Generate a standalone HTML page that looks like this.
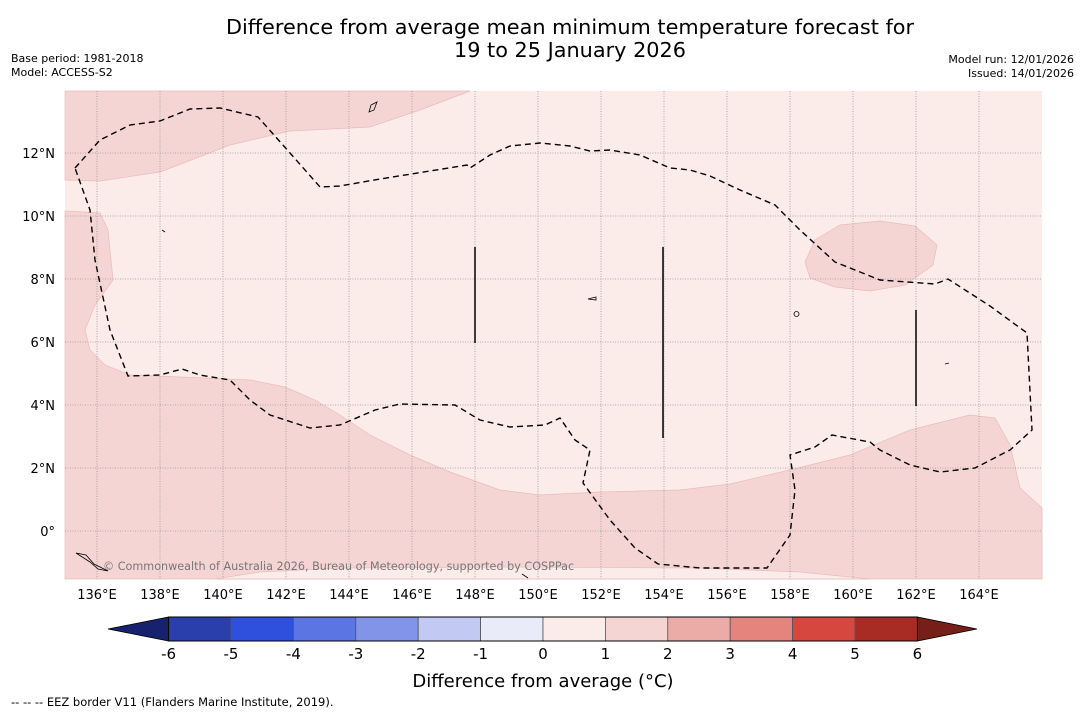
<!DOCTYPE html>
<html><head><meta charset="utf-8"><style>
body{margin:0;background:#fff;width:1085px;height:713px;overflow:hidden;font-family:"Liberation Sans","DejaVu Sans",sans-serif}
svg{display:block}
</style></head><body>
<svg width="1085" height="713" xmlns="http://www.w3.org/2000/svg" font-family="DejaVu Sans, Liberation Sans, sans-serif">
<text x="570" y="34" font-size="20.8" text-anchor="middle">Difference from average mean minimum temperature forecast for</text>
<text x="570" y="57" font-size="20.8" text-anchor="middle">19 to 25 January 2026</text>
<text x="11" y="62" font-size="11">Base period: 1981-2018</text>
<text x="11" y="76" font-size="11">Model: ACCESS-S2</text>
<text x="1074" y="63" font-size="11" text-anchor="end">Model run: 12/01/2026</text>
<text x="1074" y="77" font-size="11" text-anchor="end">Issued: 14/01/2026</text>
<g>
<rect x="65" y="91" width="977" height="488" fill="#fbebe9"/>
<path fill="#f5d5d4" stroke="#e8bcbb" stroke-width="0.7" d="M65,91 L470,91 L420,110 L370,127 L290,131 L230,145 L160,172 L100,181 L65,180 Z"/>
<path fill="#f5d5d4" stroke="#e8bcbb" stroke-width="0.7" d="M65,211 L100,213 L108,230 L113,280 L95,305 L85,330 L90,350 L105,365 L130,375 L180,377 L250,380 L285,387 L315,400 L340,415 L370,435 L410,455 L450,472 L500,490 L540,495 L600,492 L680,490 L730,484 L790,470 L850,455 L910,430 L970,415 L995,418 L1010,445 L1020,488 L1042,508 L1042,579 L65,579 Z"/>
<path fill="#fbebe9" stroke="#e8bcbb" stroke-width="0.7" d="M215,579 L260,572 L340,568 L500,567 L700,568 L800,572 L870,579 Z"/>
<path fill="#f5d5d4" stroke="#e8bcbb" stroke-width="0.7" d="M805,262 L815,240 L840,225 L880,221 L915,226 L937,245 L933,265 L905,285 L870,291 L835,287 L810,278 Z"/>
<g id="grid" stroke="#999" stroke-width="0.8" stroke-dasharray="1,1.5"></g>
<path fill="none" stroke="#000" stroke-width="1.4" stroke-dasharray="6,4" d="M75,168 L100,140 L130,125 L160,121 L190,109 L220,108 L258,117 L290,153 L320,187 L340,186 L380,179 L430,171 L467,165 L470,168 L490,155 L510,146 L540,143 L570,146 L590,151 L610,150 L640,155 L670,168 L690,170 L710,176 L740,190 L775,205 L800,230 L835,262 L880,280 L935,284 L948,279 L990,306 L1027,333 L1032,430 L1010,450 L975,468 L940,472 L910,465 L880,450 L870,442 L832,435 L815,447 L790,455 L795,490 L790,535 L767,568 L700,568 L658,564 L635,548 L610,520 L583,483 L590,450 L575,440 L560,418 L545,425 L510,427 L480,420 L455,405 L400,404 L375,410 L340,425 L310,428 L270,415 L250,400 L230,380 L200,375 L182,369 L160,375 L128,376 L110,330 L95,260 L90,210 Z"/>
<g stroke="#000" stroke-width="1.5">
<line x1="475" y1="247" x2="475" y2="343"/><line x1="663" y1="247" x2="663" y2="438"/><line x1="916" y1="310" x2="916" y2="406"/>
</g>
<g fill="none" stroke="#000" stroke-width="0.8">
<path d="M369,112 L371,105 L377,102 L374,110 Z"/><path d="M588,299 L596,297 L596,300 Z"/><path d="M794,314 a2.5,2.5 0 1,0 5,0 a2.5,2.5 0 1,0 -5,0"/><path d="M945,364 L949,363"/><path d="M162,230 L165,232"/><path d="M76,553 L86,555 L94,564 L108,571 L98,569 L90,562 Z"/><path d="M522,574 L528,578"/>
</g>
<text x="103" y="570" font-size="11.2" fill="#777">© Commonwealth of Australia 2026, Bureau of Meteorology, supported by COSPPac</text>
</g>
<g id="axes" font-size="13"></g>
<g id="cbar"></g>
<text x="543" y="687" font-size="18" text-anchor="middle">Difference from average (°C)</text>
<text x="11" y="706" font-size="11.5">--  --  -- EEZ border V11 (Flanders Marine Institute, 2019).</text>
</svg>
<script>
const lonTicks=[136,138,140,142,144,146,148,150,152,154,156,158,160,162,164];
const latTicks=[0,2,4,6,8,10,12];
const cbLevels=[-6,-5,-4,-3,-2,-1,0,1,2,3,4,5,6];
const cbColors=["#2a3fab","#2f50dc","#5b75e2","#8194e8","#c2c9f3","#e9ebf9","#fbebe9","#f5d5d4","#ebaba6","#e5847d","#d6483f","#a92c24"];
const NS="http://www.w3.org/2000/svg";
const xLon=l=>97+(l-136)*31.5, yLat=l=>531-l*31.5;
const xCb=v=>543+v*62.4;
function mk(t,a,p){const e=document.createElementNS(NS,t);for(const k in a)e.setAttribute(k,a[k]);p.appendChild(e);return e;}
const grid=document.getElementById('grid'),axes=document.getElementById('axes'),cb=document.getElementById('cbar');
lonTicks.forEach(l=>{const x=xLon(l);
const g=mk('line',{x1:x,x2:x,y1:91,y2:579},grid);


const t=mk('text',{x:x,y:599,'text-anchor':'middle'},axes);t.textContent=l+'°E';

});
latTicks.forEach(l=>{const y=yLat(l);
const g=mk('line',{x1:65,x2:1042,y1:y,y2:y},grid);


const t=mk('text',{x:55,y:y+5,'text-anchor':'end'},axes);t.textContent=l===0?'0°':l+'°N';

});
const x0=xCb(cbLevels[0]),x1=xCb(cbLevels[cbLevels.length-1]);
const lt=mk('polygon',{points:`${x0},617 ${x0},641 108,629`,fill:'#17226e',stroke:'#000','stroke-width':0.8},cb);


const rt=mk('polygon',{points:`${x1},617 ${x1},641 977,629`,fill:'#761e18',stroke:'#000','stroke-width':0.8},cb);


cbColors.forEach((c,i)=>{const a=xCb(cbLevels[i]),b=xCb(cbLevels[i+1]);
const r=mk('rect',{x:a,y:617,width:b-a,height:24,fill:c,stroke:'#555','stroke-width':0.8},cb);

});
mk('rect',{x:x0,y:617,width:x1-x0,height:24,fill:'none',stroke:'#000','stroke-width':1},cb);
cbLevels.forEach(v=>{const t=mk('text',{x:xCb(v),y:659,'text-anchor':'middle','font-size':15},cb);t.textContent=v;

});
</script>
</body></html>
